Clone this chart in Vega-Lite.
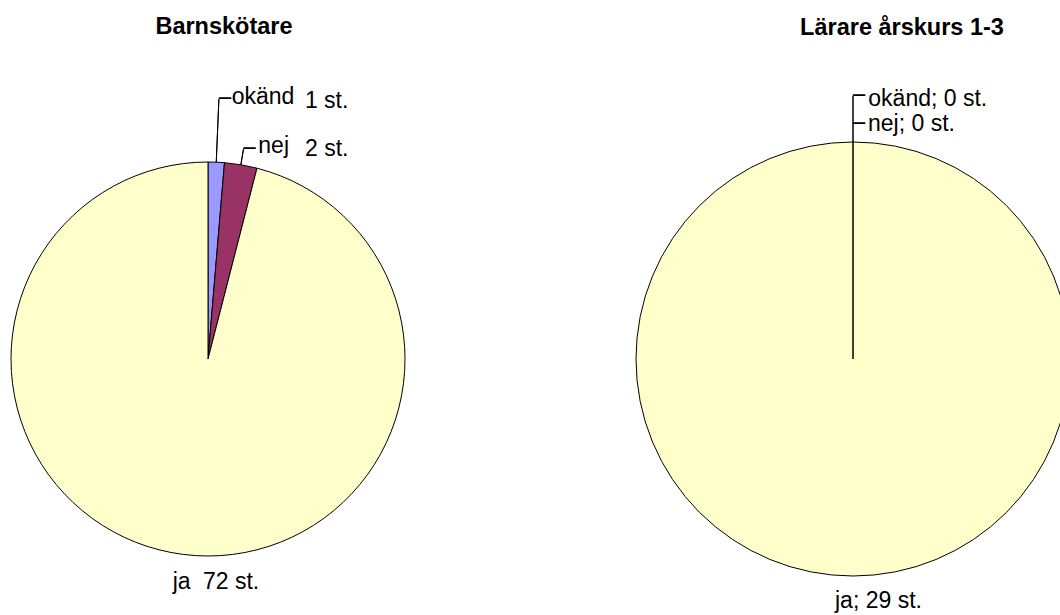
{
  "$schema": "https://vega.github.io/schema/vega-lite/v6.json",
  "padding": {"left": 0, "top": 15, "right": 0, "bottom": 0},
  "spacing": 220,
  "bounds": "flush",
  "config": {"view": {"stroke": null}, "font": "Liberation Sans", "text": {"font": "Liberation Sans", "fontSize": 23, "color": "black"}},
  "datasets": {
    "barn": [
      {"kat": "okänd", "n": 1, "antal": "1 st."},
      {"kat": "nej", "n": 2, "antal": "2 st."},
      {"kat": "ja", "n": 72, "antal": "72 st."}
    ],
    "larare": [
      {"kat": "okänd", "n": 0, "etikett": "okänd; 0 st."},
      {"kat": "nej", "n": 0, "etikett": "nej; 0 st."},
      {"kat": "ja", "n": 29, "etikett": "ja; 29 st."}
    ]
  },
  "hconcat": [
    {
      "width": 416,
      "height": 440,
      "data": {"name": "barn"},
      "title": {"text": "Barnskötare", "font": "Liberation Sans", "fontSize": 23.5, "fontWeight": "bold", "color": "black", "anchor": "middle", "frame": "group", "dx": 16, "offset": 28, "baseline": "alphabetic"},
      "encoding": {
        "theta": {"field": "n", "type": "quantitative", "stack": true},
        "order": {"field": "kat", "sort": "descending"},
        "detail": {"field": "kat", "type": "nominal"}
      },
      "layer": [
        {
          "mark": {"type": "arc", "radius": 197, "stroke": "black", "strokeWidth": 1},
          "encoding": {"color": {"field": "kat", "type": "nominal", "scale": {"domain": ["okänd", "nej", "ja"], "range": ["#9999FF", "#993366", "#FFFFCC"]}, "legend": null}}
        },
        {
          "transform": [{"filter": "datum.kat === 'okänd'"}],
          "mark": {"type": "arc", "radius": 260, "radius2": 197, "padAngle": 1, "fillOpacity": 0, "stroke": "black", "strokeWidth": 1}
        },
        {
          "transform": [{"filter": "datum.kat !== 'ja'"}],
          "mark": {"type": "arc", "radius": 213, "radius2": 197, "padAngle": 1, "fillOpacity": 0, "stroke": "black", "strokeWidth": 1},
          "encoding": {"strokeOpacity": {"condition": {"test": "datum.kat === 'nej'", "value": 1}, "value": 0}}
        },
        {
          "transform": [{"filter": "datum.kat === 'okänd'"}],
          "mark": {"type": "text", "radius": 260, "align": "left", "baseline": "middle", "font": "DejaVu Sans", "fontSize": 20},
          "encoding": {"text": {"value": "─"}}
        },
        {
          "transform": [{"filter": "datum.kat !== 'ja'"}],
          "mark": {"type": "text", "radius": 213, "align": "left", "baseline": "middle", "font": "DejaVu Sans", "fontSize": 20},
          "encoding": {"text": {"value": "─"}, "opacity": {"condition": {"test": "datum.kat === 'nej'", "value": 1}, "value": 0}}
        },
        {
          "transform": [{"filter": "datum.kat === 'okänd'"}],
          "mark": {"type": "text", "radius": 260, "align": "left", "baseline": "alphabetic", "dx": 12.8, "dy": 4.7},
          "encoding": {"text": {"field": "kat"}}
        },
        {
          "transform": [{"filter": "datum.kat === 'okänd'"}],
          "mark": {"type": "text", "radius": 260, "align": "left", "baseline": "alphabetic", "dx": 86, "dy": 8.4},
          "encoding": {"text": {"field": "antal"}}
        },
        {
          "transform": [{"filter": "datum.kat !== 'ja'"}],
          "mark": {"type": "text", "radius": 213, "align": "left", "baseline": "alphabetic", "dx": 14.8, "dy": 3.7},
          "encoding": {"text": {"field": "kat"}, "opacity": {"condition": {"test": "datum.kat === 'nej'", "value": 1}, "value": 0}}
        },
        {
          "transform": [{"filter": "datum.kat !== 'ja'"}],
          "mark": {"type": "text", "radius": 213, "align": "left", "baseline": "alphabetic", "dx": 61.5, "dy": 7},
          "encoding": {"text": {"field": "antal"}, "opacity": {"condition": {"test": "datum.kat === 'nej'", "value": 1}, "value": 0}}
        },
        {
          "mark": {"type": "text", "radius": 197, "align": "left", "baseline": "alphabetic", "dx": -10.6, "dy": 34.6},
          "encoding": {"text": {"field": "kat"}, "opacity": {"condition": {"test": "datum.kat === 'ja'", "value": 1}, "value": 0}}
        },
        {
          "mark": {"type": "text", "radius": 197, "align": "left", "baseline": "alphabetic", "dx": 19.7, "dy": 34.6},
          "encoding": {"text": {"field": "antal"}, "opacity": {"condition": {"test": "datum.kat === 'ja'", "value": 1}, "value": 0}}
        }
      ]
    },
    {
      "width": 434,
      "height": 440,
      "data": {"name": "larare"},
      "title": {"text": "Lärare årskurs 1-3", "font": "Liberation Sans", "fontSize": 23.5, "fontWeight": "bold", "color": "black", "anchor": "middle", "frame": "group", "dx": 49, "offset": 28, "baseline": "alphabetic"},
      "encoding": {
        "theta": {"field": "n", "type": "quantitative", "stack": true},
        "order": {"field": "kat", "sort": "descending"},
        "detail": {"field": "kat", "type": "nominal"}
      },
      "layer": [
        {
          "mark": {"type": "arc", "radius": 217, "stroke": "black", "strokeWidth": 1},
          "encoding": {"color": {"field": "kat", "type": "nominal", "scale": {"domain": ["okänd", "nej", "ja"], "range": ["#9999FF", "#993366", "#FFFFCC"]}, "legend": null}}
        },
        {
          "transform": [{"filter": "datum.kat === 'okänd'"}],
          "mark": {"type": "arc", "radius": 263, "radius2": 0, "padAngle": 1, "fillOpacity": 0, "stroke": "black", "strokeWidth": 1}
        },
        {
          "transform": [{"filter": "datum.kat === 'okänd'"}],
          "mark": {"type": "text", "radius": 263, "align": "left", "baseline": "middle", "font": "DejaVu Sans", "fontSize": 20},
          "encoding": {"text": {"value": "─"}}
        },
        {
          "transform": [{"filter": "datum.kat !== 'ja'"}],
          "mark": {"type": "text", "radius": 235, "align": "left", "baseline": "middle", "font": "DejaVu Sans", "fontSize": 20},
          "encoding": {"text": {"value": "─"}, "opacity": {"condition": {"test": "datum.kat === 'nej'", "value": 1}, "value": 0}}
        },
        {
          "transform": [{"filter": "datum.kat === 'okänd'"}],
          "mark": {"type": "text", "radius": 263, "align": "left", "baseline": "alphabetic", "dx": 15.3, "dy": 10},
          "encoding": {"text": {"field": "etikett"}}
        },
        {
          "transform": [{"filter": "datum.kat !== 'ja'"}],
          "mark": {"type": "text", "radius": 235, "align": "left", "baseline": "alphabetic", "dx": 15, "dy": 7},
          "encoding": {"text": {"field": "etikett"}, "opacity": {"condition": {"test": "datum.kat === 'nej'", "value": 1}, "value": 0}}
        },
        {
          "mark": {"type": "text", "radius": 217, "align": "left", "baseline": "alphabetic", "dx": -18, "dy": 32},
          "encoding": {"text": {"field": "etikett"}, "opacity": {"condition": {"test": "datum.kat === 'ja'", "value": 1}, "value": 0}}
        }
      ]
    }
  ]
}
